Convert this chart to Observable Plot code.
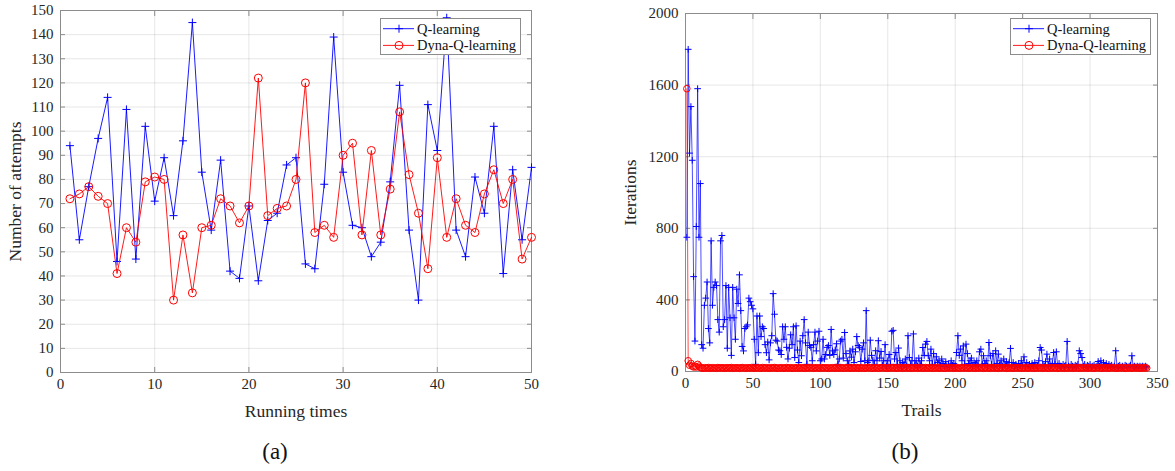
<!DOCTYPE html>
<html>
<head>
<meta charset="utf-8">
<script src="https://cdn.jsdelivr.net/npm/d3@7"></script>
<script src="https://cdn.jsdelivr.net/npm/@observablehq/plot@0.6"></script>
<style>
  html, body { margin: 0; padding: 0; background: #fff; }
  #wrap { position: relative; width: 1175px; height: 471px; background: #fff; font-family: "Liberation Serif", "Times New Roman", serif; }
  .panel { position: absolute; top: 0; }
  .cap { position: absolute; font-size: 23px; color: #111; transform: translate(-50%, -50%); white-space: nowrap; }
  .legend { position: absolute; }
</style>
</head>
<body>
<div id="wrap">
  <div id="pa" class="panel" style="left:0px"></div>
  <div id="pb" class="panel" style="left:600px"></div>
  <div class="cap" style="left:275px; top:452px">(a)</div>
  <div class="cap" style="left:905px; top:452px">(b)</div>
</div>
<script>
// ---------- Panel (a) data ----------
const runsA = d3.range(1, 51);
const qA = [94,55,77,97,114,46,109,47,102,71,
            89,65,96,145,83,59,88,42,39,69,
            38,63,66,86,89,45,43,78,139,83,
            61,60,48,54,79,119,59,30,111,92,
            147,59,48,81,66,102,41,84,55,85];
const dA = [72,74,77,73,70,41,60,54,79,81,
            80,30,57,33,60,61,72,69,62,69,
            122,65,68,69,80,120,58,61,56,90,
            95,57,92,57,76,108,82,66,43,89,
            56,72,61,58,74,84,70,80,47,56];
const xTicksA = [0,10,20,30,40,50];
const yTicksA = [0,10,20,30,40,50,60,70,80,90,100,110,120,130,140,150];

// ---------- Panel (b) data ----------
const qB = [750,1800,1220,1480,1180,530,170,810,1580,750,
            1050,150,130,370,410,500,240,160,730,370,
            470,500,480,290,220,730,760,250,290,480,
            130,470,300,90,470,300,180,460,380,540,
            340,140,115,240,250,260,410,390,370,350,
            180,40,310,105,310,195,250,240,150,105,
            165,65,160,200,435,320,175,170,120,116,
            95,250,180,250,135,70,130,205,150,250,
            78,255,120,50,170,88,200,290,160,40,
            220,145,135,60,150,220,115,170,225,60,
            70,180,70,95,135,145,90,235,115,95,
            120,155,40,70,170,180,75,218,100,60,
            40,115,80,125,50,110,195,145,135,56,
            125,160,60,340,50,60,175,90,63,40,
            116,60,172,75,112,35,60,150,30,60,
            95,40,225,230,70,106,40,131,60,25,
            50,40,70,30,200,78,40,60,210,35,
            60,30,75,40,60,134,90,153,168,88,
            60,125,40,100,35,82,50,60,30,70,
            45,30,55,25,40,30,60,35,45,30,
            106,200,90,125,60,143,40,153,100,45,
            60,75,30,50,40,60,30,110,125,40,
            88,45,60,30,162,88,40,100,30,116,
            45,97,35,60,30,70,40,55,30,50,
            129,35,50,30,40,25,45,30,60,35,
            82,30,50,30,40,25,45,30,50,35,
            30,60,134,120,40,30,55,97,35,70,
            30,45,106,40,110,30,45,30,25,40,
            30,35,168,30,25,40,30,25,35,30,
            40,116,100,78,30,40,25,35,30,40,
            25,30,35,25,30,56,30,60,25,50,
            30,45,25,40,30,35,25,30,116,25,
            30,35,25,30,25,35,30,25,30,35,
            88,25,30,25,30,25,30,25,30,25,
            30,25];
const dB = [1580,60,35,45,30,25,30,25,40,30,
            22,20,18,21,19,20,22,18,20,21,
            19,20,18,22,20,19,21,20,18,20,
            21,19,20,22,18,20,19,21,20,18,
            20,22,19,20,18,21,20,19,22,20,
            18,20,21,19,20,18,22,20,19,21,
            20,18,20,21,19,22,20,18,20,19,
            21,20,18,20,22,19,20,21,18,20,
            19,20,22,18,20,21,19,20,18,21,
            20,19,22,20,18,20,21,19,20,18,
            22,20,19,21,20,18,20,19,21,20,
            18,22,20,19,20,21,18,20,19,22,
            20,18,21,20,19,20,22,18,20,21,
            19,20,18,21,20,22,19,20,18,20,
            21,19,20,18,22,20,21,19,20,18,
            20,21,19,22,20,18,20,19,21,20,
            18,20,22,19,20,21,18,20,19,20,
            22,18,20,21,19,20,18,22,20,19,
            20,21,18,20,19,22,20,18,21,20,
            19,20,18,21,20,19,22,20,18,20,
            21,19,20,18,22,20,19,21,20,18,
            20,22,19,20,18,21,20,19,22,20,
            18,20,21,19,20,18,22,20,19,21,
            20,18,20,21,19,22,20,18,20,19,
            21,20,18,20,22,19,20,21,18,20,
            19,20,22,18,20,21,19,20,18,21,
            20,19,22,20,18,20,21,19,20,18,
            22,20,19,21,20,18,20,19,21,20,
            18,22,20,19,20,21,18,20,19,22,
            20,18,21,20,19,20,22,18,20,21,
            19,20,18,21,20,22,19,20,18,20,
            21,19,20,18,22,20,21,19,20,18,
            20,21,19,22,20,18,20,19,21,20,
            18,20,22,19,20,21,18,20,19,20,
            21,19];
const trailsB = d3.range(1, qB.length + 1);
const xTicksB = [0,50,100,150,200,250,300,350];
const yTicksB = [0,400,800,1200,1600,2000];

const seriesNames = ["Q-learning", "Dyna-Q-learning"];
const BLUE = "#0000ff", RED = "#ff0000";
const GRID = "#262626", FRAME = "#8c8c8c", TXT = "#262626";
const FONT = "Liberation Serif, Times New Roman, serif";

const tableA = runsA.map((r, i) => ({x: r, q: qA[i], d: dA[i]}));
const tableB = trailsB.map((t, i) => ({x: t, q: qB[i], d: dB[i]}));

function panel({data, xDomain, yDomain, xTicks, yTicks, xLabel, yLabel, width, height, mL, mR, mT, mB, yLabelOffset, plusR, circR, lineW}) {
  const blank = () => "";
  const plain = d => String(d);
  return Plot.plot({
    width, height,
    marginLeft: mL, marginRight: mR, marginTop: mT, marginBottom: mB,
    style: {fontFamily: FONT, fontSize: "15px", color: TXT, background: "transparent", overflow: "visible"},
    x: {domain: xDomain},
    y: {domain: yDomain},
    marks: [
      Plot.gridX(xTicks, {stroke: GRID, strokeOpacity: 0.11}),
      Plot.gridY(yTicks, {stroke: GRID, strokeOpacity: 0.11}),
      Plot.frame({stroke: FRAME, strokeWidth: 1}),
      // inward ticks on four sides
      Plot.axisX(xTicks, {anchor: "bottom", tickSize: 5, dy: -5, tickFormat: blank, label: null, stroke: FRAME}),
      Plot.axisX(xTicks, {anchor: "top", tickSize: 5, dy: 5, tickFormat: blank, label: null, stroke: FRAME}),
      Plot.axisY(yTicks, {anchor: "left", tickSize: 5, dx: 5, tickFormat: blank, label: null, stroke: FRAME}),
      Plot.axisY(yTicks, {anchor: "right", tickSize: 5, dx: -5, tickFormat: blank, label: null, stroke: FRAME}),
      // labelled axes
      Plot.axisX(xTicks, {anchor: "bottom", tickSize: 0, tickPadding: 6, tickFormat: plain, label: xLabel, labelAnchor: "center", labelArrow: "none", labelOffset: 44, fontSize: 15, fontFamily: FONT}),
      Plot.axisY(yTicks, {anchor: "left", tickSize: 0, tickPadding: 7, tickFormat: plain, label: yLabel, labelAnchor: "center", labelArrow: "none", labelOffset: yLabelOffset, fontSize: 15, fontFamily: FONT}),
      // Q-learning
      Plot.line(data, {x: "x", y: "q", stroke: BLUE, strokeWidth: lineW}),
      Plot.dot(data, {x: "x", y: "q", symbol: "plus", r: plusR, stroke: BLUE, fill: "none", strokeWidth: 1}),
      // Dyna-Q-learning
      Plot.line(data, {x: "x", y: "d", stroke: RED, strokeWidth: lineW}),
      Plot.dot(data, {x: "x", y: "d", symbol: "circle", r: circR, stroke: RED, fill: "none", strokeWidth: 1})
    ]
  });
}

const svgA = panel({data: tableA, xDomain: [0, 50], yDomain: [0, 150], xTicks: xTicksA, yTicks: yTicksA,
  xLabel: "Running times", yLabel: "Number of attempts", width: 560, height: 425,
  mL: 60, mR: 29, mT: 10, mB: 53, yLabelOffset: 52, plusR: 2.7, circR: 4, lineW: 0.9});
const svgB = panel({data: tableB, xDomain: [0, 350], yDomain: [0, 2000], xTicks: xTicksB, yTicks: yTicksB,
  xLabel: "Trails", yLabel: "Iterations", width: 575, height: 425,
  mL: 85, mR: 18, mT: 13, mB: 54, yLabelOffset: 62, plusR: 2.3, circR: 3.3, lineW: 0.7});

// style the axis labels
for (const svg of [svgA, svgB]) {
  d3.select(svg).selectAll("[aria-label$='axis label'] text, [aria-label$='axis label']").attr("font-size", 17.5);
}
document.getElementById("pa").appendChild(svgA);
document.getElementById("pb").appendChild(svgB);

// legends
function legend(left, top) {
  const w = 141, h = 37;
  const svg = d3.create("svg").attr("width", w).attr("height", h).attr("class", "legend")
    .style("left", left + "px").style("top", top + "px").style("position", "absolute");
  svg.append("rect").attr("x", 0.5).attr("y", 0.5).attr("width", w - 1).attr("height", h - 1)
    .attr("fill", "#fff").attr("stroke", "#8c8c8c");
  const rows = [{name: seriesNames[0], c: BLUE, sym: "plus"}, {name: seriesNames[1], c: RED, sym: "circle"}];
  rows.forEach((r, i) => {
    const y = 10.7 + i * 16.7;
    svg.append("line").attr("x1", 3).attr("x2", 34).attr("y1", y).attr("y2", y).attr("stroke", r.c).attr("stroke-width", 0.9);
    if (r.sym === "plus") {
      svg.append("path").attr("d", `M15,${y}h8M19,${y - 4}v8`).attr("stroke", r.c).attr("fill", "none");
    } else {
      svg.append("circle").attr("cx", 19).attr("cy", y).attr("r", 4).attr("stroke", r.c).attr("fill", "none");
    }
    svg.append("text").attr("x", 37).attr("y", y).attr("dy", "0.35em").attr("font-family", FONT)
      .attr("font-size", 14.5).attr("fill", "#111").text(r.name);
  });
  document.getElementById("wrap").appendChild(svg.node());
}
legend(380, 18);
legend(1010, 18);
</script>
</body>
</html>
